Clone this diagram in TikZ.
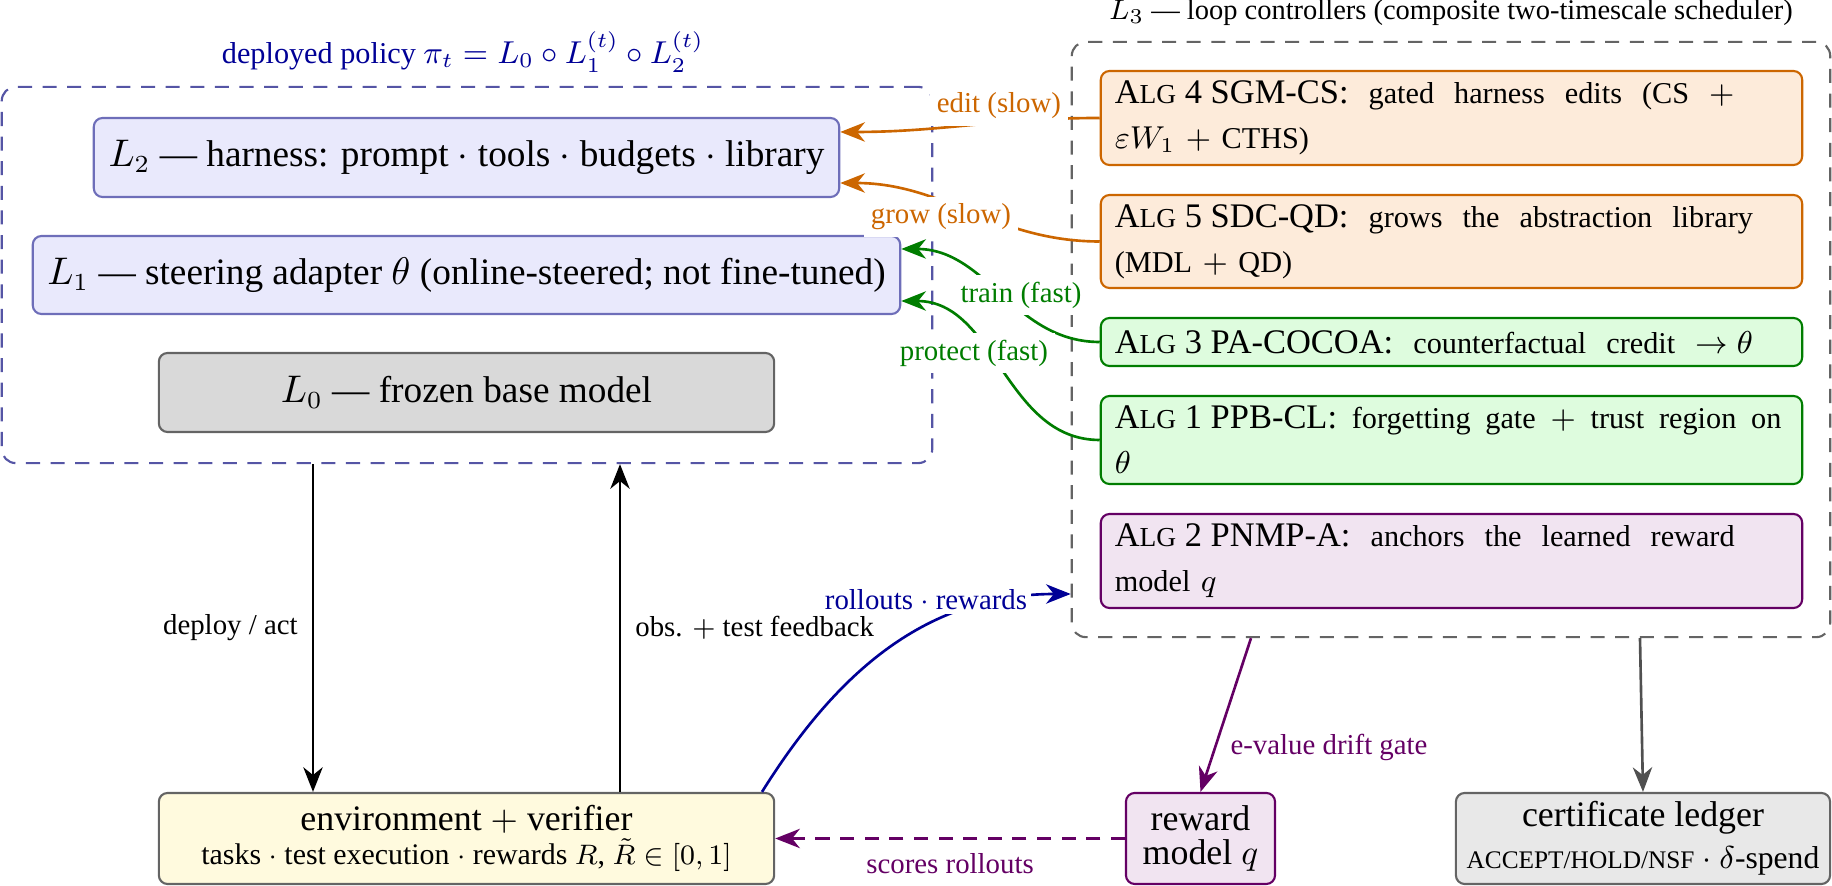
\documentclass[tikz,border=0pt]{standalone}
\usepackage[no-math]{fontspec}
\setmainfont{Liberation Serif}
\usetikzlibrary{arrows.meta,calc}
\definecolor{navyc}{RGB}{0,0,150}
\definecolor{orc}{RGB}{204,102,0}
\definecolor{grc}{RGB}{0,125,0}
\definecolor{puc}{RGB}{100,0,100}
\definecolor{bluebd}{RGB}{110,110,185}
\definecolor{bluefill}{RGB}{233,233,252}
\definecolor{polbd}{RGB}{85,85,165}
\definecolor{orfill}{RGB}{253,235,218}
\definecolor{grfill}{RGB}{222,252,222}
\definecolor{pufill}{RGB}{241,228,241}
\definecolor{envfill}{RGB}{255,250,222}
\definecolor{lzfill}{RGB}{217,217,217}
\definecolor{certfill}{RGB}{232,232,232}
\definecolor{gbd}{RGB}{100,100,100}
\definecolor{garr}{RGB}{80,80,80}
\newcommand\fs[2]{\fontsize{#1}{#2}\selectfont}
\newskip\zeroskip
\newskip\wideskip \wideskip=5.7pt plus 1pt\relax
\newskip\midskip \midskip=4.2pt plus 1pt\relax
\newskip\narrowskip \narrowskip=3pt plus 1pt\relax
\newcommand\algfont{\fs{8.6}{12.8}}
\newcommand\alghead[2]{{\spaceskip\zeroskip\fs{9.8}{12.8}A{\fs{7.8}{12.8}LG} #1 #2:}}
\tikzset{
  every node/.style={inner sep=0pt},
  layerbox/.style={draw=bluebd, fill=bluefill, rounded corners=2.5pt, line width=0.6pt, font=\fs{10.6}{12}},
  basebox/.style={draw=gbd, fill=lzfill, rounded corners=2.5pt, line width=0.6pt, font=\fs{10.6}{12}},
  algbox/.style={rounded corners=2.5pt, line width=0.6pt, text width=6.73cm, align=left,
    inner xsep=0.14cm, inner ysep=0pt, font=\algfont},
  botbox/.style={rounded corners=2.5pt, line width=0.6pt, align=center, minimum height=0.91cm},
  lab/.style={font=\fs{8.2}{10}, inner sep=2pt},
  arr/.style={line width=0.75pt, -{Stealth[length=7pt,width=5.5pt,inset=2.2pt]}},
  curvy/.style={arr, out=180, in=0},
  dbox/.style={dash pattern=on 4pt off 3pt, line width=0.6pt, rounded corners=4pt}
}
\begin{document}
\begin{tikzpicture}[x=0.01cm, y=-0.01cm]
\useasboundingbox (0,0) rectangle (1832,886);

% ---- deployed policy group
\node[dbox, draw=polbd, minimum width=9.30cm, minimum height=3.76cm] (pol) at (467,275) {};
\node[font=\fs{8.6}{10}, text=navyc] (poltitle) at (463,52)
  {deployed policy $\pi_t = L_0 \circ L_1^{(t)} \circ L_2^{(t)}$};
\node[layerbox, minimum width=7.45cm, minimum height=0.79cm] (L2) at (466.5,157.5)
  {$L_2$ — harness: prompt $\cdot$ tools $\cdot$ budgets $\cdot$ library};
\node[layerbox, minimum width=8.67cm, minimum height=0.78cm] (L1) at (466.5,275)
  {$L_1$ — steering adapter $\theta$ (online-steered; not fine-tuned)};
\node[basebox, minimum width=6.15cm, minimum height=0.79cm] (L0) at (466.5,392.5)
  {$L_0$ — frozen base model};

% ---- controllers group
\node[dbox, draw=gbd, minimum width=7.58cm, minimum height=5.95cm] (ctl) at (1451,339.5) {};
\node[font=\fs{8.1}{10}] (ctltitle) at (1451,13)
  {$L_3$ — loop controllers (composite two-timescale scheduler)};
\node[algbox, draw=orc, fill=orfill, minimum height=0.94cm] (a4) at (1451.5,118)
  {\spaceskip\wideskip\mbox{\alghead{4}{SGM-CS} gated harness edits (CS $+$}\\ \spaceskip\narrowskip\mbox{$\varepsilon W_1$ $+$ CTHS)}};
\node[algbox, draw=orc, fill=orfill, minimum height=0.93cm] (a5) at (1451.5,241.5)
  {\spaceskip\wideskip\mbox{\alghead{5}{SDC-QD} grows the abstraction library}\\ \spaceskip\narrowskip\mbox{(MDL $+$ QD)}};
\node[algbox, draw=grc, fill=grfill, minimum height=0.48cm] (a3) at (1451.5,342)
  {\spaceskip\wideskip\mbox{\alghead{3}{PA-COCOA} counterfactual credit $\rightarrow \theta$}};
\node[algbox, draw=grc, fill=grfill, minimum height=0.88cm] (a1) at (1451.5,440)
  {\spaceskip\midskip\mbox{\alghead{1}{PPB-CL} forgetting gate $+$ trust region on}\\ \mbox{$\theta$}};
\node[algbox, draw=puc, fill=pufill, minimum height=0.94cm] (a2) at (1451.5,561)
  {\spaceskip\wideskip\mbox{\alghead{2}{PNMP-A} anchors the learned reward}\\ \spaceskip\narrowskip\mbox{model $q$}};

% ---- bottom row
\node[botbox, draw=gbd, fill=envfill, minimum width=6.15cm, font=\fs{10.2}{9.8}] (env) at (466.5,838.5)
  {{\fs{10.2}{9.8}environment $+$ verifier}\\{\fs{8.5}{9.8}tasks $\cdot$ test execution $\cdot$ rewards $R$, $\tilde R \in [0,1]$}};
\node[botbox, draw=puc, fill=pufill, minimum width=1.49cm, font=\fs{10.2}{9.6}] (rw) at (1200.5,838.5)
  {reward\\model $q$};
\node[botbox, draw=gbd, fill=certfill, minimum width=3.74cm] (cert) at (1643,838.5)
  {{\fs{10.2}{11}certificate ledger}\\{\fs{9}{9.4}{\fs{7.2}{9.4}ACCEPT/HOLD/NSF} $\cdot$ $\delta$-spend}};

% ---- helper coordinates
\coordinate (dA) at (313,0);
\coordinate (oA) at (620,0);
\coordinate (rA) at (762,0);
\coordinate (rB) at (0,594);
\coordinate (eA) at (1251,0);
\coordinate (gA) at (1640,0);

% ---- connectors
\draw[arr] (pol.south -| dA) -- (env.north -| dA)
  node[lab, midway, left, inner sep=4pt] (deplab) {deploy / act};
\draw[arr] (env.north -| oA) -- (pol.south -| oA)
  node[lab, midway, right, inner sep=4pt] (obslab) {obs. $+$ test feedback};
\draw[arr, navyc] (env.north -| rA) to[out=58, in=180] (ctl.west |- rB);
\node[lab, text=navyc, fill=white, inner sep=1pt] (rolllab) at (926,600) {rollouts $\cdot$ rewards};
\draw[arr, puc, dash pattern=on 4pt off 3pt] (rw.west) -- (env.east)
  node[lab, midway, below, inner sep=4pt] (scorelab) {scores rollouts};
\draw[arr, puc] (ctl.south -| eA) -- (rw.north)
  node[lab, pos=0.71, right, inner sep=4pt] (evlab) {e-value drift gate};
\draw[arr, garr] (ctl.south -| gA) -- (cert.north);

\draw[curvy, orc] (a4.west) to ([yshift=0.255cm]L2.east);
\node[lab, text=orc, fill=white] (editlab) at (999,106) {edit (slow)};
\draw[curvy, orc] (a5.west) to ([yshift=-0.255cm]L2.east);
\node[lab, text=orc, fill=white] (growlab) at (941,217) {grow (slow)};
\draw[curvy, grc] (a3.west) to ([yshift=0.26cm]L1.east);
\node[lab, text=grc, fill=white] (trainlab) at (1021,295) {train (fast)};
\draw[curvy, grc] (a1.west) to ([yshift=-0.26cm]L1.east);
\node[lab, text=grc, fill=white] (protlab) at (974,353) {protect (fast)};
\end{tikzpicture}
\end{document}
